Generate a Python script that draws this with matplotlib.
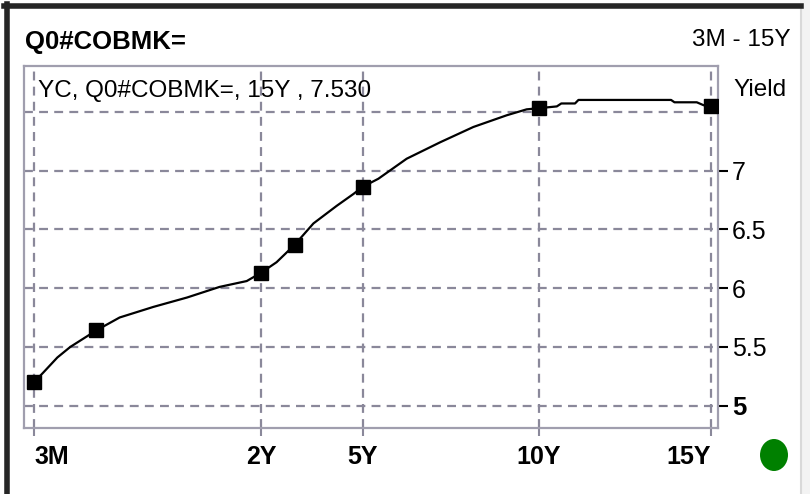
import numpy as np
import matplotlib
matplotlib.use("Agg")
import matplotlib.pyplot as plt
from matplotlib.lines import Line2D
from matplotlib.patches import Ellipse, Rectangle

plt.rcParams['font.family'] = ['Liberation Sans', 'DejaVu Sans']

# ---- data ----
marker_tenors = [0.25, 0.73, 2, 3, 5, 10, 15]
marker_yields = [5.20, 5.64, 6.13, 6.37, 6.86, 7.53, 7.55]

curve_tenors = [0.25, 0.32, 0.43, 0.53, 0.63, 0.73, 0.91, 1.17, 1.43, 1.68, 1.89, 2.0,
                2.46, 3.0, 3.55, 4.24, 4.73, 5.0, 5.45, 6.25, 7.2, 8.14, 9.09, 9.65, 10.0,
                10.52, 10.65, 11.05, 11.15, 13.85, 13.95, 14.6, 14.8, 15.0]
curve_yields = [5.20, 5.28, 5.41, 5.50, 5.57, 5.64, 5.75, 5.84, 5.92, 6.01, 6.06, 6.13,
                6.22, 6.37, 6.55, 6.70, 6.80, 6.86, 6.93, 7.10, 7.24, 7.37, 7.47, 7.52, 7.53,
                7.545, 7.57, 7.57, 7.60, 7.60, 7.58, 7.58, 7.555, 7.55]

tick_tenors = [0.25, 2, 5, 10, 15]
tick_labels = ['3M', '2Y', '5Y', '10Y', '15Y']
ytick_vals = [5, 5.5, 6, 6.5, 7]
ytick_labels = ['5', '5.5', '6', '6.5', '7']

title = 'Q0#COBMK='
range_text = '3M - 15Y'
legend_text = 'YC, Q0#COBMK=, 15Y , 7.530'

# ---- piecewise tenor scale (short end stretched) ----
knot_t = np.array([0.0, 0.25, 2.0, 5.0, 10.0, 15.0, 20.0])
knot_p = np.array([1.6, 34.0, 261.0, 362.5, 539.0, 710.5, 882.0])
fwd = lambda x: np.interp(x, knot_t, knot_p)
inv = lambda p: np.interp(p, knot_p, knot_t)

W, H = 810, 494
fig = plt.figure(figsize=(W / 100, H / 100), dpi=100)
fig.patch.set_facecolor('white')

ax = fig.add_axes([24 / W, 1 - 428 / H, (718 - 24) / W, (428 - 66) / H])
ax.set_xscale('function', functions=(fwd, inv))
ax.set_xlim(inv(24), inv(718))
ax.set_ylim(5 - (428 - 405.7) / 117.6, 5 + (405.7 - 66) / 117.6)

gcol = '#8a889a'
for s in ax.spines.values():
    s.set_color('#a09eae')
    s.set_linewidth(1.6)

ax.plot(curve_tenors, curve_yields, color='black', lw=1.6, zorder=3)
ax.plot(marker_tenors, marker_yields, ls='none', marker='s', ms=10,
        color='black', zorder=4)

# y axis on the right
ax.yaxis.tick_right()
ax.set_yticks(ytick_vals)
ax.set_yticklabels(ytick_labels, fontsize=18)
ax.set_yticks([7.5], minor=True)
ax.tick_params(axis='y', which='major', length=7, width=1.5, color='black', pad=3)
ax.tick_params(axis='y', which='minor', length=0)
for lab in ax.get_yticklabels():
    if lab.get_text() == '5':
        lab.set_fontweight('bold')
        lab.set_fontsize(18.5)

# x axis
ax.xaxis.set_minor_locator(matplotlib.ticker.NullLocator())
ax.set_xticks(tick_tenors)
ax.set_xticklabels(tick_labels, fontsize=18, fontweight='bold')
ax.tick_params(axis='x', length=6, width=1.5, color=gcol, pad=6)
xl = ax.get_xticklabels()
xl[0].set_ha('left')
xl[-1].set_ha('right')

ax.grid(True, which='both', color=gcol, ls=(0, (4, 2.8)), lw=1.6)
ax.set_axisbelow(True)

# texts
fig.text(25 / W, 1 - 49 / H, title, fontsize=18.5, fontweight='bold',
         ha='left', va='baseline')
fig.text(791 / W, 1 - 46 / H, range_text, fontsize=17.5, ha='right', va='baseline')
fig.text(38 / W, 1 - 97 / H, legend_text, fontsize=17.5, ha='left', va='baseline')
fig.text(733 / W, 1 - 96 / H, 'Yield', fontsize=17.5, ha='left', va='baseline')

# outer frame
fig.add_artist(Rectangle((800 / W, 0), 10 / W, 1, transform=fig.transFigure,
                         facecolor='#f3f3f3', edgecolor='none'))
fig.add_artist(Line2D([800.5 / W, 800.5 / W], [0, 1 - 8 / H], transform=fig.transFigure,
                      color='#d9d9d9', lw=1.5))
fig.add_artist(Line2D([4 / W, 801 / W], [1 - 6.5 / H, 1 - 6.5 / H], transform=fig.transFigure,
                      color='#262626', lw=4))
fig.add_artist(Line2D([6.5 / W, 6.5 / W], [0, 1 - 4 / H], transform=fig.transFigure,
                      color='#262626', lw=4))

# status dot
fig.add_artist(Ellipse((774 / W, 1 - 455 / H), 28 / W, 32 / H, transform=fig.transFigure,
                       facecolor='#008000', edgecolor='none'))

fig.savefig('out.png', dpi=100)
